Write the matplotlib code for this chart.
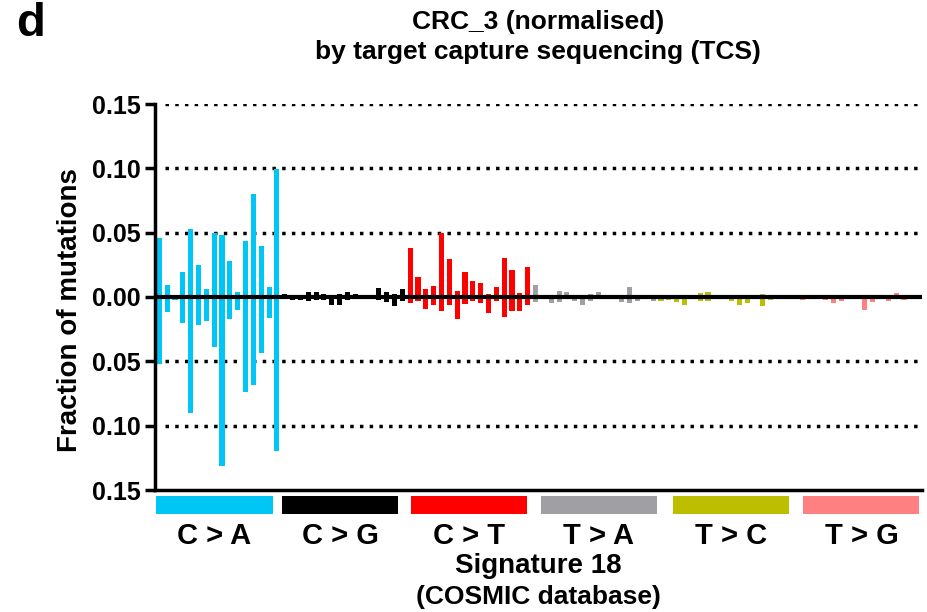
import numpy as np
import matplotlib
matplotlib.use('Agg')
import matplotlib.pyplot as plt

plt.rcParams['font.family'] = ['Liberation Sans', 'DejaVu Sans']
plt.rcParams['font.weight'] = 'bold'

groups = ['C > A', 'C > G', 'C > T', 'T > A', 'T > C', 'T > G']
group_colors = ['#00C6F5', '#000000', '#FF0000', '#A0A0A4', '#BEBE00', '#FF8080']

# CRC_3 (normalised), shown above zero, 16 contexts per substitution type
crc3 = [
    # C>A
    0.0455, 0.0097, 0.0018, 0.0192, 0.0526, 0.0247, 0.0066, 0.0500,
    0.0479, 0.0282, 0.0042, 0.0437, 0.0800, 0.0395, 0.0076, 0.0995,
    # C>G
    0.002, 0.001, 0.001, 0.004, 0.004, 0.002, 0.001, 0.002,
    0.004, 0.002, 0.001, 0.001, 0.007, 0.004, 0.002, 0.006,
    # C>T
    0.038, 0.0158, 0.006, 0.0084, 0.0495, 0.0295, 0.0047, 0.0192,
    0.0126, 0.011, 0.002, 0.0074, 0.030, 0.0208, 0.0034, 0.0237,
    # T>A
    0.0095, 0.001, 0.0005, 0.0047, 0.004, 0.001, 0.0015, 0.002,
    0.0037, 0.001, 0.0015, 0.0005, 0.008, 0.001, 0.0005, 0.0015,
    # T>C
    0.0005, 0.0005, 0.0003, 0.0003, 0.0, 0.003, 0.004, 0.0012,
    0.0005, 0.0003, 0.0003, 0.0015, 0.0, 0.002, 0.0005, 0.0005,
    # T>G
    0.0005, 0.0003, 0.0003, 0.0003, 0.0003, 0.0005, 0.0003, 0.0005,
    0.0003, 0.0003, 0.0003, 0.0015, 0.0012, 0.0005, 0.003, 0.0015,
]

# Signature 18 (COSMIC), shown below zero
sig18 = [
    # C>A
    0.0518, 0.0118, 0.0026, 0.0205, 0.0900, 0.0216, 0.0184, 0.0387,
    0.1310, 0.0171, 0.0100, 0.0737, 0.0687, 0.0432, 0.0160, 0.1200,
    # C>G
    0.001, 0.002, 0.002, 0.003, 0.002, 0.002, 0.006, 0.006,
    0.002, 0.001, 0.001, 0.001, 0.002, 0.004, 0.007, 0.003,
    # C>T
    0.0047, 0.0032, 0.0092, 0.0066, 0.011, 0.0066, 0.017, 0.0058,
    0.0034, 0.0047, 0.0126, 0.0032, 0.0158, 0.0105, 0.011, 0.006,
    # T>A
    0.0037, 0.001, 0.0047, 0.0037, 0.001, 0.003, 0.006, 0.003,
    0.001, 0.001, 0.0015, 0.0037, 0.005, 0.003, 0.001, 0.003,
    # T>C
    0.003, 0.002, 0.004, 0.006, 0.0, 0.003, 0.003, 0.001,
    0.001, 0.003, 0.006, 0.005, 0.0, 0.007, 0.002, 0.001,
    # T>G
    0.0005, 0.0005, 0.002, 0.0005, 0.0003, 0.002, 0.005, 0.003,
    0.0005, 0.0003, 0.010, 0.004, 0.001, 0.003, 0.0005, 0.002,
]

yticks = [0.15, 0.10, 0.05, 0.0, -0.05, -0.10, -0.15]

n = len(crc3)
x = np.arange(n)
bar_colors = [group_colors[i // 16] for i in range(n)]

fig = plt.figure(figsize=(9.28, 6.12), dpi=100)
ax = fig.add_axes([155 / 928, 1 - 490 / 612, 767 / 928, 386 / 612])

ax.bar(x, crc3, width=0.65, color=bar_colors, zorder=2)
ax.bar(x, -np.array(sig18), width=0.65, color=bar_colors, zorder=2)

ax.set_xlim(-0.55, 97.3)
ax.set_ylim(-0.15, 0.15)
ax.set_yticks(yticks)
ax.set_yticklabels(['%.2f' % abs(v) for v in yticks], fontsize=18, fontweight='bold')
ax.set_xticks([])
for v in yticks:
    if v not in (0.0, -0.15):
        ax.axhline(v, color='black', lw=2.5, ls=(0, (1.0, 1.8)), zorder=1, xmin=0.013)
ax.axhline(0, color='black', lw=3, zorder=3)

for s in ['top', 'right']:
    ax.spines[s].set_visible(False)
for s in ['left', 'bottom']:
    ax.spines[s].set_linewidth(2.5)
ax.tick_params(axis='y', length=7, width=2.5, pad=3)
ax.set_ylabel('Fraction of mutations', fontsize=20, fontweight='bold')
ax.yaxis.set_label_coords(-0.094, 0.466)

fig.text(538 / 928, 1 - 22 / 612, 'CRC_3 (normalised)', ha='center', va='center',
         fontsize=19, fontweight='bold')
fig.text(538 / 928, 1 - 52 / 612, 'by target capture sequencing (TCS)', ha='center',
         va='center', fontsize=19, fontweight='bold')

# substitution type colour key below the axis
centers = [(c - 159.3) / 7.84 for c in [214.5, 340.5, 469, 599, 731, 861.5]]
ax2 = fig.add_axes([155 / 928, 1 - 514 / 612, 767 / 928, 18 / 612])
ax2.set_xlim(-0.55, 97.3)
ax2.set_ylim(0, 1)
ax2.bar(centers, 1, width=14.8, bottom=0, color=group_colors, align='center')
for c, g in zip(centers, groups):
    ax2.text(c, -1.2, g, ha='center', va='center', fontsize=21, fontweight='bold')
ax2.axis('off')

fig.text(538 / 928, 1 - 566 / 612, 'Signature 18', ha='center', va='center',
         fontsize=20, fontweight='bold')
fig.text(538 / 928, 1 - 597 / 612, '(COSMIC database)', ha='center', va='center',
         fontsize=19, fontweight='bold')
fig.text(16 / 928, 1 - 24 / 612, 'd', ha='left', va='center', fontsize=34, fontweight='bold')

fig.savefig('out.png', dpi=100)
